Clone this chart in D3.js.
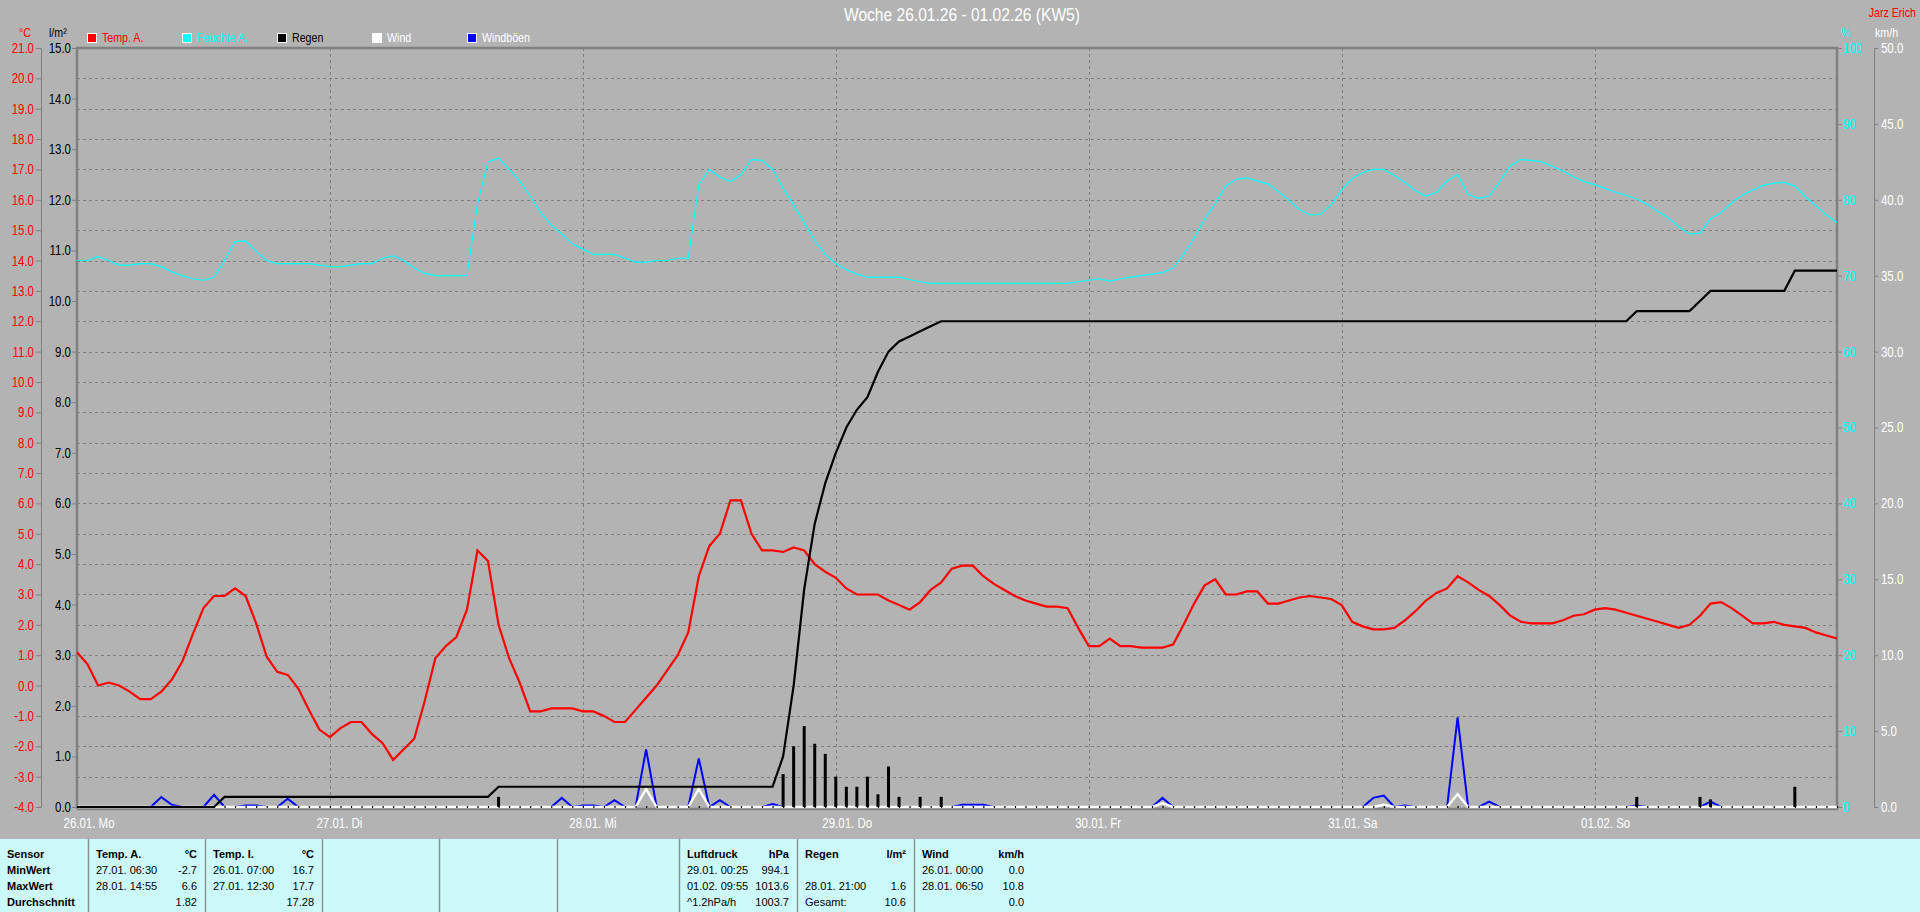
<!DOCTYPE html>
<html><head><meta charset="utf-8">
<script src="https://cdn.jsdelivr.net/npm/d3@7"></script>
<style>
html,body{margin:0;padding:0;background:#b3b3b3;overflow:hidden;}
svg{display:block;}
</style></head><body>
<svg id="c" width="1920" height="912"></svg>
<script>
// ---------- DATA ----------
const chartTitle = "Woche 26.01.26 - 01.02.26 (KW5)";
const authorLabel = "Jarz Erich";
const dayLabels = ["26.01. Mo","27.01. Di","28.01. Mi","29.01. Do","30.01. Fr","31.01. Sa","01.02. So"];
const dayStartHours = [0,24,48,72,96,120,144];
const tempTicks = [-4,-3,-2,-1,0,1,2,3,4,5,6,7,8,9,10,11,12,13,14,15,16,17,18,19,20,21];
const rainTicks = [0,1,2,3,4,5,6,7,8,9,10,11,12,13,14,15];
const humTicks = [0,10,20,30,40,50,60,70,80,90,100];
const windTicks = [0,5,10,15,20,25,30,35,40,45,50];
const legendNames = ["Temp. A.","Feuchte A.","Regen","Wind","Windböen"];
const legendColors = ["#ff0000","#00ffff","#000000","#ffffff","#0000ff"];
const legendTextColors = ["#ff0000","#00ffff","#000000","#ffffff","#ffffff"];

// hourly outdoor temperature (°C), 26.01 00:00 .. 01.02 23:00
const tempA = [
 1.1,0.7,0.0,0.1,0.0,-0.2,-0.45,-0.45,-0.2,0.2,0.8,1.7,2.55,2.95,2.95,3.2,2.95,2.05,0.95,0.45,0.35,-0.1,-0.8,-1.45,
 -1.7,-1.4,-1.2,-1.2,-1.6,-1.9,-2.45,-2.1,-1.75,-0.5,0.9,1.3,1.6,2.5,4.45,4.1,2.0,0.9,0.1,-0.85,-0.85,-0.75,-0.75,-0.75,
 -0.85,-0.85,-1.0,-1.2,-1.2,-0.8,-0.4,0.0,0.5,1.0,1.75,3.6,4.6,5.0,6.1,6.1,5.0,4.45,4.45,4.4,4.55,4.45,4.0,3.75,
 3.55,3.2,3.0,3.0,3.0,2.8,2.65,2.5,2.75,3.15,3.4,3.85,3.95,3.95,3.6,3.35,3.15,2.95,2.8,2.7,2.6,2.6,2.55,1.9,
 1.3,1.3,1.55,1.3,1.3,1.25,1.25,1.25,1.35,2.0,2.7,3.3,3.5,3.0,3.0,3.1,3.1,2.7,2.7,2.8,2.9,2.95,2.9,2.85,
 2.65,2.1,1.95,1.85,1.85,1.9,2.15,2.45,2.8,3.05,3.2,3.6,3.4,3.15,2.95,2.65,2.3,2.1,2.05,2.05,2.05,2.15,2.3,2.35,
 2.5,2.55,2.5,2.4,2.3,2.2,2.1,2.0,1.9,2.0,2.3,2.7,2.75,2.55,2.3,2.05,2.05,2.1,2.0,1.95,1.9,1.75,1.65,1.55
];
// hourly outdoor humidity (%)
const humA = [
 72.0,72.0,72.5,72.0,71.4,71.4,71.6,71.6,71.2,70.5,70.0,69.6,69.4,69.8,72.0,74.5,74.6,73.2,72.0,71.6,71.6,71.6,71.6,71.4,
 71.2,71.2,71.4,71.6,71.6,72.3,72.6,72.0,71.0,70.3,70.0,70.0,70.0,70.0,79.5,85.0,85.5,84.0,82.5,80.5,78.3,76.7,75.5,74.2,
 73.5,72.8,72.8,72.8,72.3,71.8,71.8,72.0,72.0,72.3,72.3,82.0,84.0,83.0,82.4,83.3,85.3,85.2,84.0,81.5,79.3,77.0,74.6,72.8,
 71.6,70.8,70.2,69.8,69.8,69.8,69.8,69.5,69.2,69.0,69.0,69.0,69.0,69.0,69.0,69.0,69.0,69.0,69.0,69.0,69.0,69.0,69.0,69.2,
 69.4,69.6,69.3,69.6,69.8,70.0,70.2,70.4,71.0,72.8,75.0,77.5,79.5,81.8,82.7,82.9,82.5,82.1,81.1,79.9,78.7,78.0,78.1,79.3,
 81.3,82.8,83.6,84.0,84.0,83.2,82.3,81.2,80.5,81.0,82.5,83.3,80.7,80.2,80.5,82.4,84.5,85.3,85.2,85.0,84.4,83.8,83.0,82.4,
 82.0,81.5,81.0,80.6,80.1,79.4,78.5,77.6,76.4,75.5,75.6,77.5,78.3,79.6,80.6,81.3,81.9,82.2,82.3,81.8,80.4,79.2,78.0,77.0
];
// hourly cumulative rain (l/m²)
const rainTotal = [
 0,0,0,0,0,0,0,0,0,0,0,0,0,0,0.2,0.2,0.2,0.2,0.2,0.2,0.2,0.2,0.2,0.2,
 0.2,0.2,0.2,0.2,0.2,0.2,0.2,0.2,0.2,0.2,0.2,0.2,0.2,0.2,0.2,0.2,0.4,0.4,0.4,0.4,0.4,0.4,0.4,0.4,
 0.4,0.4,0.4,0.4,0.4,0.4,0.4,0.4,0.4,0.4,0.4,0.4,0.4,0.4,0.4,0.4,0.4,0.4,0.4,1.0,2.4,4.3,5.6,6.4,
 7.0,7.5,7.85,8.1,8.6,9.0,9.2,9.3,9.4,9.5,9.6,9.6,9.6,9.6,9.6,9.6,9.6,9.6,9.6,9.6,9.6,9.6,9.6,9.6,
 9.6,9.6,9.6,9.6,9.6,9.6,9.6,9.6,9.6,9.6,9.6,9.6,9.6,9.6,9.6,9.6,9.6,9.6,9.6,9.6,9.6,9.6,9.6,9.6,
 9.6,9.6,9.6,9.6,9.6,9.6,9.6,9.6,9.6,9.6,9.6,9.6,9.6,9.6,9.6,9.6,9.6,9.6,9.6,9.6,9.6,9.6,9.6,9.6,
 9.6,9.6,9.6,9.6,9.8,9.8,9.8,9.8,9.8,9.8,10.0,10.2,10.2,10.2,10.2,10.2,10.2,10.2,10.2,10.6,10.6,10.6,10.6,10.6
];
// hourly rain amounts (hour, l/m²)
const rainBarHours = [40,67,68,69,70,71,72,73,74,75,76,77,78,80,82,148,154,155,163];
const rainBarValues = [0.2,0.65,1.2,1.6,1.25,1.05,0.6,0.4,0.4,0.6,0.25,0.8,0.2,0.2,0.2,0.2,0.2,0.15,0.4];
// wind (hour, km/h)
const windHours = [0,53,54,55,58,59,60,102,103,104,123,124,125,130,131,132,167];
const windValues = [0,0,1.2,0,0,1.2,0,0,0.25,0,0,0.15,0,0,0.85,0,0];
// gusts (hour, km/h)
const gustHours = [0,7,8,9,10,12,13,14,15,16,17,18,19,20,21,45,46,47,48,49,50,51,52,53,54,55,58,59,60,61,62,65,66,67,83,84,85,86,87,102,103,104,122,123,124,125,126,127,130,131,132,133,134,135,147,148,149,154,155,156,167];
const gustValues = [0,0,0.65,0.15,0,0,0.8,0,0,0.1,0.1,0,0,0.55,0,0,0.6,0,0.1,0.1,0,0.45,0,0,3.8,0,0,3.2,0,0.45,0,0,0.2,0,0,0.15,0.15,0.15,0,0,0.6,0,0,0.6,0.75,0,0.1,0,0,5.9,0,0,0.35,0,0,0.1,0,0,0.35,0,0];

// summary table
const tblRowLabels = ["Sensor","MinWert","MaxWert","Durchschnitt"];
const tblHeads = ["Temp. A.","Temp. I.","","","","Luftdruck","Regen","Wind"];
const tblUnits = ["°C","°C","","","","hPa","l/m²","km/h"];
const tblLeft = [["27.01.  06:30","28.01.  14:55",""],["26.01.  07:00","27.01.  12:30",""],[],[],[],["29.01.  00:25","01.02.  09:55","^1.2hPa/h"],["","28.01.  21:00","Gesamt:"],["26.01.  00:00","28.01.  06:50",""]];
const tblRight = [["-2.7","6.6","1.82"],["16.7","17.7","17.28"],[],[],[],["994.1","1013.6","1003.7"],["","1.6","10.6"],["0.0","10.8","0.0"]];

// ---------- LAYOUT ----------
const FONT = '"Liberation Sans",Arial,sans-serif';
const SX = 0.82; // narrow look
const BG = "#b3b3b3", GRID = "#808080";
const L = 77, R = 1837, T = 48, B = 807;
const svg = d3.select("#c");
svg.append("rect").attr("width",1920).attr("height",912).attr("fill",BG);

function narrow(sel){
  sel.each(function(){
    const t = d3.select(this);
    t.attr("x",(+t.attr("x")||0)/SX);
    if(t.attr("dx")!==null) t.attr("dx",(parseFloat(t.attr("dx"))||0)/SX);
    t.attr("transform",`scale(${SX},1)`);
  });
  return sel;
}

const x = d3.scaleLinear().domain([0,167]).range([L,R]);
const yT = d3.scaleLinear().domain([-4,21]).range([B,T]);
const yR = d3.scaleLinear().domain([0,15]).range([B,T]);
const yH = d3.scaleLinear().domain([0,100]).range([B,T]);
const yW = d3.scaleLinear().domain([0,50]).range([B,T]);

// grid
const grid = svg.append("g");
grid.selectAll("line.h").data(tempTicks.filter(t=>t>-4&&t<21)).join("line")
  .attr("x1",L).attr("x2",R).attr("y1",d=>Math.round(yT(d))+0.5).attr("y2",d=>Math.round(yT(d))+0.5)
  .attr("stroke",GRID).attr("stroke-dasharray","3,3");
grid.selectAll("line.v").data(dayStartHours.slice(1)).join("line")
  .attr("x1",d=>Math.round(x(d))+0.5).attr("x2",d=>Math.round(x(d))+0.5).attr("y1",T).attr("y2",B)
  .attr("stroke",GRID).attr("stroke-dasharray","3,3");

// frame
svg.append("path").attr("d",`M${L},${B+2}V${T}H${R}V${B+2}H${L}`)
  .attr("fill","none").attr("stroke",GRID).attr("stroke-width",2.5);

function styleAxis(g, color, size, anchor){
  g.attr("font-family",FONT).attr("font-size",size);
  g.selectAll(".tick line").attr("stroke",GRID);
  g.selectAll(".domain").attr("stroke",GRID);
  g.selectAll("text").attr("fill",color);
  if(anchor) g.selectAll("text").attr("text-anchor",anchor);
}
// temp axis
const gT = svg.append("g").attr("transform","translate(41,0)")
  .call(d3.axisLeft(yT).tickValues(tempTicks).tickFormat(d=>d.toFixed(1)).tickSize(5).tickSizeOuter(0).tickPadding(2));
styleAxis(gT,"#ff0000",14); narrow(gT.selectAll("text"));
// rain axis
const gR = svg.append("g").attr("transform",`translate(${L},0)`)
  .call(d3.axisLeft(yR).tickValues(rainTicks).tickFormat(d=>d.toFixed(1)).tickSize(5).tickSizeOuter(0).tickPadding(1));
styleAxis(gR,"#000000",14); gR.select(".domain").remove(); narrow(gR.selectAll("text"));
// humidity axis
const gH = svg.append("g").attr("transform",`translate(${R},0)`)
  .call(d3.axisRight(yH).tickValues(humTicks).tickFormat(d3.format("d")).tickSize(5).tickSizeOuter(0).tickPadding(1));
styleAxis(gH,"#00ffff",14); gH.select(".domain").remove(); narrow(gH.selectAll("text"));
// wind axis
const gW = svg.append("g").attr("transform","translate(1874,0)")
  .call(d3.axisRight(yW).tickValues(windTicks).tickFormat(d=>d.toFixed(1)).tickSize(4).tickSizeOuter(0).tickPadding(3));
styleAxis(gW,"#ffffff",14); narrow(gW.selectAll("text"));
// x axis labels
const gX = svg.append("g").attr("transform",`translate(0,${B+1})`)
  .call(d3.axisBottom(x).tickValues(dayStartHours).tickFormat((d,i)=>dayLabels[i]).tickSize(0).tickPadding(10));
styleAxis(gX,"#ffffff",14,"start"); gX.select(".domain").remove();
gX.selectAll("text").attr("dx",-14); narrow(gX.selectAll("text"));

// units
const units = svg.append("g").attr("font-family",FONT).attr("font-size",13);
narrow(units.append("text").attr("x",25).attr("y",37).attr("text-anchor","middle").attr("fill","#ff0000").text("°C"));
narrow(units.append("text").attr("x",49).attr("y",37).attr("fill","#000").text("l/m²"));
narrow(units.append("text").attr("x",1841).attr("y",37).attr("fill","#00ffff").text("%"));
narrow(units.append("text").attr("x",1875).attr("y",37).attr("fill","#ffffff").text("km/h"));
narrow(units.append("text").attr("x",1916).attr("y",17).attr("text-anchor","end").attr("fill","#ff0000").text(authorLabel));

// title
narrow(svg.append("text").attr("x",962).attr("y",21).attr("text-anchor","middle")
  .attr("font-family",FONT).attr("font-size",19).attr("fill","#ffffff").text(chartTitle));

// legend
const lg = svg.append("g").attr("font-family",FONT).attr("font-size",13);
const li = lg.selectAll("g").data(legendNames).join("g").attr("transform",(d,i)=>`translate(${87+95*i},0)`);
li.append("rect").attr("x",0.5).attr("y",33.5).attr("width",9).attr("height",9)
  .attr("fill",(d,i)=>legendColors[i]).attr("stroke","#ffffff");
narrow(li.append("text").attr("x",15).attr("y",42).attr("fill",(d,i)=>legendTextColors[i]).text(d=>d));

// ---------- SERIES ----------
const hrs = tempA.map((d,i)=>i);
svg.append("path").datum(humA).attr("fill","none").attr("stroke","#00ffff").attr("stroke-width",1.2)
  .attr("d",d3.line().x((d,i)=>x(i)).y(d=>yH(d)));
svg.append("path").datum(tempA).attr("fill","none").attr("stroke","#ff0000").attr("stroke-width",2.2)
  .attr("d",d3.line().x((d,i)=>x(i)).y(d=>yT(d)));
svg.append("path").datum(gustHours).attr("fill","none").attr("stroke","#0000ff").attr("stroke-width",2)
  .attr("d",d3.line().x(d=>x(d)).y((d,i)=>yW(gustValues[i])));
svg.append("path").datum(windHours).attr("fill","none").attr("stroke","#ffffff").attr("stroke-width",2.4)
  .attr("d",d3.line().x(d=>x(d)).y((d,i)=>yW(windValues[i])));
// hourly baseline marks (zero rain bars)
const gZ = svg.append("g").attr("transform",`translate(0,${B+1})`)
  .call(d3.axisTop(x).tickValues(hrs).tickSize(2).tickFormat(""));
gZ.select(".domain").remove(); gZ.selectAll(".tick line").attr("stroke","#000").attr("stroke-width",1.2);
// rain bars
svg.append("g").selectAll("rect").data(rainBarHours).join("rect")
  .attr("x",d=>x(d)-1.5).attr("width",3)
  .attr("y",(d,i)=>yR(rainBarValues[i])).attr("height",(d,i)=>B-yR(rainBarValues[i]))
  .attr("fill","#000");
svg.append("path").datum(rainTotal).attr("fill","none").attr("stroke","#000").attr("stroke-width",2.2)
  .attr("d",d3.line().x((d,i)=>x(i)).y(d=>yR(d)));

// ---------- TABLE ----------
const TB = 839;
svg.append("rect").attr("x",0).attr("y",TB).attr("width",1920).attr("height",912-TB).attr("fill","#ccfafa");
const colEdges = [88,205,322,439,557,679,797,914,1032];
svg.append("g").selectAll("line").data(colEdges.slice(0,8)).join("line")
  .attr("x1",d=>d+0.5).attr("x2",d=>d+0.5).attr("y1",TB).attr("y2",912)
  .attr("stroke","#909090").attr("stroke-width",1.5);
const rowY = [858,874,890,906];
const tg = svg.append("g").attr("font-family",FONT).attr("font-size",11).attr("fill","#000").style("white-space","pre");
tg.selectAll("text.rl").data(tblRowLabels).join("text").attr("x",7).attr("y",(d,i)=>rowY[i]).attr("font-weight","bold").text(d=>d);
tblHeads.forEach((h,c)=>{
  const x0 = colEdges[c], x1 = colEdges[c+1];
  if(!h) return;
  tg.append("text").attr("x",x0+8).attr("y",rowY[0]).attr("font-weight","bold").text(h);
  tg.append("text").attr("x",x1-8).attr("y",rowY[0]).attr("font-weight","bold").attr("text-anchor","end").text(tblUnits[c]);
  tblLeft[c].forEach((t,r)=>{ if(t) tg.append("text").attr("x",x0+8).attr("y",rowY[r+1]).text(t); });
  tblRight[c].forEach((t,r)=>{ if(t) tg.append("text").attr("x",x1-8).attr("y",rowY[r+1]).attr("text-anchor","end").text(t); });
});
</script>
</body></html>
